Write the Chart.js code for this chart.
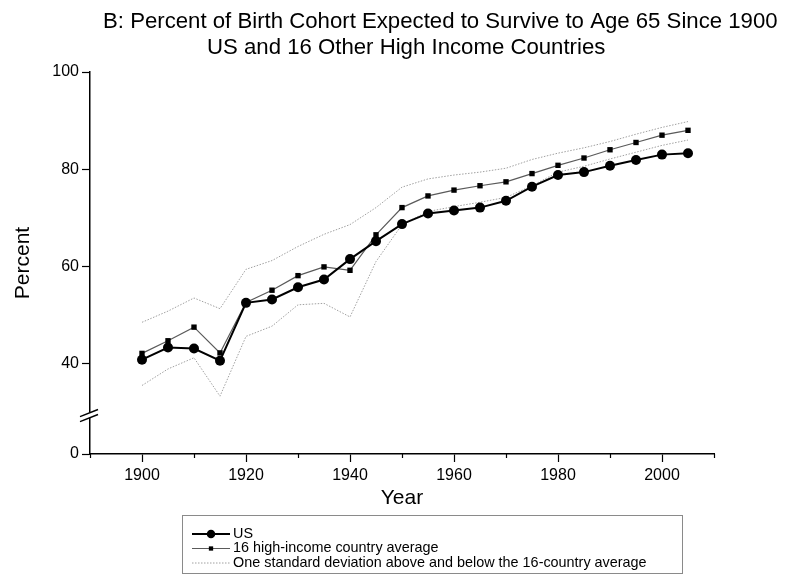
<!DOCTYPE html>
<html>
<head>
<meta charset="utf-8">
<script src="https://cdn.jsdelivr.net/npm/chart.js@4/dist/chart.umd.min.js"></script>
<style>
  html, body { margin: 0; padding: 0; background: #fff; }
  #wrap { width: 798px; height: 575px; position: relative; }
</style>
</head>
<body>
<div id="wrap"><canvas id="chart" width="798" height="575"></canvas></div>
<script>
// Survival to age 65 by birth cohort, 1900-2005
const years = [1900, 1905, 1910, 1915, 1920, 1925, 1930, 1935, 1940, 1945, 1950,
               1955, 1960, 1965, 1970, 1975, 1980, 1985, 1990, 1995, 2000, 2005];
const usPercent = [40.8, 43.3, 43.1, 40.6, 52.5, 53.2, 55.7, 57.3, 61.5, 65.2, 68.7,
                   70.9, 71.5, 72.1, 73.5, 76.4, 78.8, 79.4, 80.7, 81.9, 83.0, 83.3];
const avgPercent = [42.1, 44.7, 47.5, 42.2, 52.6, 55.1, 58.1, 59.9, 59.2, 66.5, 72.1,
                    74.5, 75.7, 76.6, 77.4, 79.1, 80.8, 82.3, 84.0, 85.5, 87.0, 88.0];
const sdUpper = [48.5, 50.8, 53.5, 51.3, 59.4, 61.2, 64.1, 66.6, 68.6, 72.1, 76.3,
                 78.0, 78.8, 79.4, 80.2, 82.0, 83.3, 84.4, 85.7, 87.2, 88.6, 89.8];
const sdLower = [35.5, 38.9, 41.2, 33.3, 45.6, 47.7, 52.1, 52.4, 49.6, 61.0, 68.6,
                 71.3, 72.3, 73.2, 74.2, 76.6, 79.4, 80.6, 82.1, 83.5, 84.9, 86.0];

const seriesLabels = ['US', '16 high-income country average',
                      'One standard deviation above and below the 16-country average'];
const titleLines = ['B: Percent of Birth Cohort Expected to Survive to Age 65 Since 1900',
                    'US and 16 Other High Income Countries'];
const xMajorTicks = [1900, 1920, 1940, 1960, 1980, 2000];
const xMinorTicks = [1890, 1910, 1930, 1950, 1970, 1990, 2010];
const yTickLabels = ['0', '40', '60', '80', '100'];
const yTickValues = [0, 40, 60, 80, 100];

// The y axis is broken: the stretch between 0 and the data is cut out,
// so the bottom of the scale (AXIS_FLOOR) carries the "0" label.
const AXIS_FLOOR = 21.4;
const BREAK_AT = 29.3;

const FONT = "'Liberation Sans', Arial, Helvetica, sans-serif";

function points(values) {
  return years.map((yr, i) => ({ x: yr, y: values[i] }));
}

const titlePlugin = {
  id: 'twoLineTitle',
  afterDraw(chart) {
    const ctx = chart.ctx;
    ctx.save();
    ctx.fillStyle = '#000';
    ctx.font = '22.2px ' + FONT;
    ctx.textBaseline = 'alphabetic';
    ctx.textAlign = 'left';
    ctx.fillText(titleLines[0], 103, 28);
    ctx.fillText(titleLines[1], 207, 54);
    ctx.restore();
  }
};

const axisExtras = {
  id: 'axisExtras',
  afterDraw(chart) {
    const ctx = chart.ctx;
    const xs = chart.scales.x, ys = chart.scales.y;
    ctx.save();
    // short minor ticks on the year axis
    ctx.strokeStyle = '#000';
    ctx.lineWidth = 1.2;
    xMinorTicks.forEach(v => {
      const px = Math.round(xs.getPixelForValue(v)) + 0.5;
      ctx.beginPath();
      ctx.moveTo(px, xs.top);
      ctx.lineTo(px, xs.top + 4);
      ctx.stroke();
    });
    // axis break marks
    const by = ys.getPixelForValue(BREAK_AT);
    const ax = ys.right;
    ctx.fillStyle = '#fff';
    ctx.fillRect(ax - 3, by - 3, 6, 5);
    ctx.strokeStyle = '#000';
    ctx.lineWidth = 1.4;
    [-2.5, 2.5].forEach(off => {
      ctx.beginPath();
      ctx.moveTo(ax - 10, by + off + 3.6);
      ctx.lineTo(ax + 8, by + off - 3.6);
      ctx.stroke();
    });
    ctx.restore();
  }
};

const legendPlugin = {
  id: 'boxLegend',
  afterDraw(chart) {
    const ctx = chart.ctx;
    const box = { x: 182, y: 515, w: 500, h: 58 };
    ctx.save();
    ctx.strokeStyle = '#8a8a8a';
    ctx.lineWidth = 1;
    ctx.strokeRect(box.x + 0.5, box.y + 0.5, box.w, box.h);
    const rows = [534, 548.5, 563];
    const sx0 = 192, sx1 = 230, tx = 233;
    const ds = chart.data.datasets;
    ctx.font = '14.4px ' + FONT;
    ctx.textBaseline = 'middle';
    ctx.fillStyle = '#000';
    [0, 1, 2].forEach((di, r) => {
      const d = ds[di];
      const y = rows[r];
      ctx.save();
      ctx.strokeStyle = d.borderColor;
      ctx.lineWidth = d.borderWidth;
      ctx.setLineDash(d.borderDash || []);
      ctx.beginPath();
      ctx.moveTo(sx0, y);
      ctx.lineTo(sx1, y);
      ctx.stroke();
      ctx.restore();
      if (d.pointRadius > 0) {
        const cx = (sx0 + sx1) / 2;
        ctx.save();
        ctx.fillStyle = d.pointBackgroundColor;
        ctx.beginPath();
        if (d.pointStyle === 'rect') {
          const s = d.pointRadius * Math.SQRT1_2 * 0.8;
          ctx.rect(cx - s, y - s, 2 * s, 2 * s);
        } else {
          ctx.arc(cx, y, d.pointRadius * 0.85, 0, Math.PI * 2);
        }
        ctx.fill();
        ctx.restore();
      }
      ctx.fillText(seriesLabels[r], tx, y);
    });
    ctx.restore();
  }
};

new Chart(document.getElementById('chart'), {
  type: 'line',
  data: {
    datasets: [
      {
        label: seriesLabels[0],
        data: points(usPercent),
        borderColor: '#000',
        borderWidth: 2,
        pointRadius: 5,
        pointStyle: 'circle',
        pointBackgroundColor: '#000',
        pointBorderWidth: 0
      },
      {
        label: seriesLabels[1],
        data: points(avgPercent),
        borderColor: '#5a5a5a',
        borderWidth: 1.2,
        pointRadius: 3.8,
        pointStyle: 'rect',
        pointBackgroundColor: '#000',
        pointBorderWidth: 0
      },
      {
        label: seriesLabels[2],
        data: points(sdUpper),
        borderColor: '#a0a0a0',
        borderWidth: 1,
        borderDash: [1.5, 1.5],
        pointRadius: 0
      },
      {
        label: seriesLabels[2] + ' (lower)',
        data: points(sdLower),
        borderColor: '#a0a0a0',
        borderWidth: 1,
        borderDash: [1.5, 1.5],
        pointRadius: 0
      }
    ]
  },
  options: {
    responsive: false,
    animation: false,
    devicePixelRatio: 1,
    layout: { padding: { left: 0, right: 84, top: 72, bottom: 62 } },
    elements: { line: { tension: 0, fill: false } },
    plugins: {
      legend: { display: false },
      title: { display: false },
      tooltip: { enabled: false }
    },
    scales: {
      x: {
        type: 'linear',
        min: 1890,
        max: 2010,
        afterBuildTicks: s => { s.ticks = xMajorTicks.map(v => ({ value: v })); },
        afterFit: s => { s.height = 59; },
        ticks: {
          autoSkip: false,
          maxRotation: 0,
          padding: 4,
          color: '#000',
          font: { family: FONT, size: 16 },
          callback: v => String(v)
        },
        grid: { drawOnChartArea: false, drawTicks: true, tickLength: 8, tickColor: '#000', tickWidth: 1.2 },
        border: { display: true, color: '#000', width: 1.5 },
        title: {
          display: true, text: 'Year', color: '#000',
          font: { family: FONT, size: 21 },
          padding: { top: 0, bottom: 2 }
        }
      },
      y: {
        type: 'linear',
        min: AXIS_FLOOR,
        max: 100,
        afterBuildTicks: s => {
          s.ticks = yTickValues.map(v => ({ value: v === 0 ? AXIS_FLOOR : v }));
        },
        afterFit: s => { s.width = 90; },
        ticks: {
          autoSkip: false,
          padding: 3,
          color: '#000',
          font: { family: FONT, size: 16 },
          callback: (v, i) => yTickLabels[i]
        },
        grid: { drawOnChartArea: false, drawTicks: true, tickLength: 8, tickColor: '#000', tickWidth: 1.2 },
        border: { display: true, color: '#000', width: 1.5 },
        title: {
          display: true, text: 'Percent', color: '#000',
          font: { family: FONT, size: 21 },
          padding: { top: 11, bottom: 0 }
        }
      }
    }
  },
  plugins: [titlePlugin, axisExtras, legendPlugin]
});
</script>
</body>
</html>
